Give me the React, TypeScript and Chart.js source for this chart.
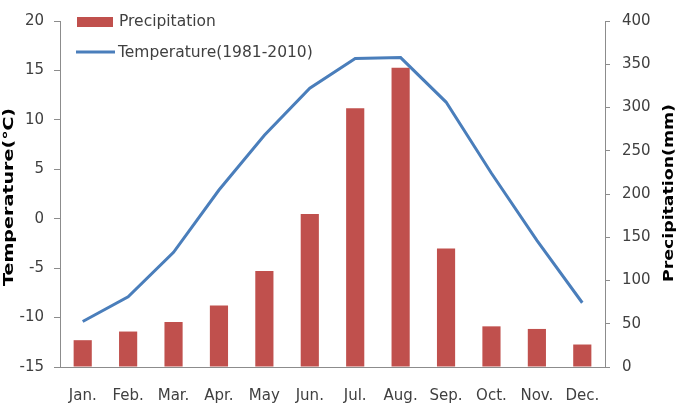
import React, { useEffect, useRef } from "react";
import { Chart, registerables } from "chart.js";

Chart.register(...registerables);

const months = ["Jan.", "Feb.", "Mar.", "Apr.", "May", "Jun.", "Jul.", "Aug.", "Sep.", "Oct.", "Nov.", "Dec."];
const precipitation = [31, 41, 52, 71, 111, 177, 299, 346, 137, 47, 44, 26];
const temperature = [-10.4, -7.9, -3.4, 2.9, 8.45, 13.2, 16.2, 16.3, 11.8, 4.6, -2.2, -8.5];
const precipLabel = "Precipitation";
const tempLabel = "Temperature(1981-2010)";
const leftTitle = "Temperature(\u2103)";
const rightTitle = "Precipitation(mm)";

const FONT = "'DejaVu Sans'";
const BAR_COLOR = "#c0504d";
const LINE_COLOR = "#4a7ebb";
const TEXT_COLOR = "#404040";
const AXIS_COLOR = "#8c8c8c";

// Draws a bottom-to-top title centred on (x, y), stretched to a given length
function drawVerticalTitle(ctx: CanvasRenderingContext2D, text: string, x: number, y: number, length: number) {
  ctx.save();
  ctx.translate(x, y);
  ctx.rotate(-Math.PI / 2);
  const w = ctx.measureText(text).width;
  ctx.scale(length / w, 1);
  ctx.fillText(text, 0, 0);
  ctx.restore();
}

// Legend in the top-left of the plot plus rotated axis titles
const overlayPlugin = {
  id: "overlay",
  afterDraw(chart: any) {
    const ctx = chart.ctx;
    const area = chart.chartArea;
    ctx.save();
    const ds = chart.data.datasets;
    const lx = area.left + 17;
    // bar swatch
    ctx.fillStyle = ds[1].backgroundColor;
    ctx.fillRect(lx, 17, 36, 10);
    // line swatch
    ctx.strokeStyle = ds[0].borderColor;
    ctx.lineWidth = 3;
    ctx.beginPath();
    ctx.moveTo(lx - 1, 52);
    ctx.lineTo(lx + 38, 52);
    ctx.stroke();
    ctx.fillStyle = TEXT_COLOR;
    ctx.font = `15.5px ${FONT}`;
    ctx.textAlign = "left";
    ctx.textBaseline = "middle";
    ctx.fillText(ds[1].label, lx + 42, 22);
    ctx.fillText(ds[0].label, lx + 41, 53);

    // axis titles, both reading bottom to top
    ctx.fillStyle = "#000";
    ctx.font = `bold 14px ${FONT}`;
    ctx.textAlign = "center";
    ctx.textBaseline = "middle";
    drawVerticalTitle(ctx, leftTitle, 9, 197, 178);
    drawVerticalTitle(ctx, rightTitle, 669, 193, 178);
    ctx.restore();
  },
};

export default function App() {
  const ref = useRef<HTMLCanvasElement>(null);

  useEffect(() => {
    document.body.style.margin = "0";
    const canvas = ref.current;
    if (!canvas) return;
    const chart = new Chart(canvas, {
      type: "bar",
      data: {
        labels: months,
        datasets: [
          {
            type: "line",
            label: tempLabel,
            data: temperature,
            yAxisID: "yT",
            borderColor: LINE_COLOR,
            backgroundColor: LINE_COLOR,
            borderWidth: 3,
            pointRadius: 0,
            tension: 0,
            order: 0,
          } as any,
          {
            type: "bar",
            label: precipLabel,
            data: precipitation,
            yAxisID: "yP",
            backgroundColor: BAR_COLOR,
            barPercentage: 0.4,
            categoryPercentage: 1,
            order: 1,
          },
        ],
      },
      options: {
        animation: false,
        responsive: false,
        maintainAspectRatio: false,
        layout: { padding: { top: 15, left: 0, right: 0, bottom: 0 } },
        plugins: {
          legend: { display: false },
          tooltip: { enabled: false },
        },
        scales: {
          x: {
            grid: { display: false },
            border: { display: true, color: AXIS_COLOR },
            ticks: {
              color: TEXT_COLOR,
              font: { family: FONT, size: 15 },
              padding: 12,
              maxRotation: 0,
            },
            afterFit(scale: any) {
              scale.height = 37;
            },
          },
          yT: {
            position: "left",
            min: -15,
            max: 20,
            ticks: {
              stepSize: 5,
              color: TEXT_COLOR,
              font: { family: FONT, size: 15 },
              padding: 10,
            },
            grid: {
              display: true,
              drawOnChartArea: false,
              drawTicks: true,
              tickLength: 6,
              color: AXIS_COLOR,
            },
            border: { display: true, color: AXIS_COLOR },
            afterFit(scale: any) {
              scale.width = 60;
            },
          },
          yP: {
            position: "right",
            min: 0,
            max: 400,
            ticks: {
              stepSize: 50,
              color: TEXT_COLOR,
              font: { family: FONT, size: 15 },
              padding: 12,
            },
            grid: {
              display: true,
              drawOnChartArea: false,
              drawTicks: true,
              tickLength: 5,
              color: AXIS_COLOR,
            },
            border: { display: true, color: AXIS_COLOR },
            afterFit(scale: any) {
              scale.width = 71;
            },
          },
        },
      },
      plugins: [overlayPlugin],
    });
    return () => chart.destroy();
  }, []);

  return (
    <div style={{ width: 676, height: 404, background: "#fff" }}>
      <canvas ref={ref} width={676} height={404} style={{ display: "block" }} />
    </div>
  );
}
